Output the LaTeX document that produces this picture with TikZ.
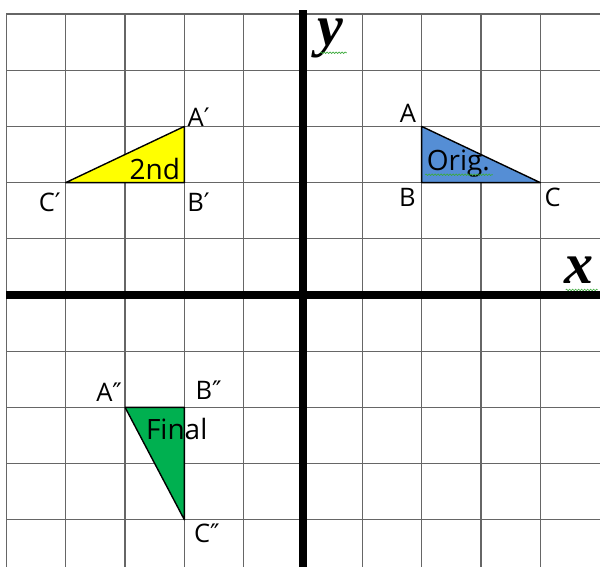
\documentclass[tikz,border=0pt]{standalone}
\usepackage{fontspec}
\setmainfont{Open Sans}
\newfontfamily\axisfont{Liberation Serif}
\newfontfamily\primefont{DejaVu Sans}
\usetikzlibrary{decorations.pathmorphing}

\definecolor{origblue}{RGB}{85,142,213}
\definecolor{secyellow}{RGB}{255,255,0}
\definecolor{finalgreen}{RGB}{0,176,80}
\definecolor{squiggle}{RGB}{60,170,60}

\newcommand{\pr}{{\primefont\char"2032}}
\newcommand{\dpr}{{\primefont\char"2033}}

\begin{document}
\begin{tikzpicture}[x=59.3pt, y=56.2pt,
    every node/.style={font=\fontsize{25.5}{27}\selectfont, inner sep=0pt},
    gridline/.style={black!60, line width=1.3pt},
    axisline/.style={black, line width=8pt},
    tri/.style={draw=black, line width=1.4pt, line join=round},
    tritext/.style={font=\fontsize{28}{30}\selectfont},
    axislabel/.style={font=\axisfont\bfseries\itshape\fontsize{58}{60}\selectfont},
    spell/.style={squiggle, line width=0.6pt, decorate,
      decoration={snake, amplitude=0.8pt, segment length=3pt}}]
    \useasboundingbox (-5.1096,-4.8399) rectangle (5.0084,5.2491);
    % Grid
    \foreach \i in {-5,...,4} \draw[gridline] (\i,-5) -- (\i,5);
    \foreach \j in {-4,...,5} \draw[gridline] (-5,\j) -- (5.2,\j);
    \draw[spell] (4.43,0.09) -- (4.97,0.09);
    % Axes
    \draw[axisline] (-5,0) -- (5.2,0);
    \draw[axisline] (0,-5) -- (0,5.07);
    \node[axislabel] (xlab) at (4.65,0.44) {x};
    \node[axislabel] (ylab) at (0.47,4.57) {y};
    \draw[spell] (0.29,4.31) -- (0.74,4.31);
    % Original
    \coordinate (A) at (2,3);
    \coordinate (B) at (2,2);
    \coordinate (C) at (4,2);
    \filldraw[tri, fill=origblue] (A) -- (B) -- (C) -- cycle;
    \node (labA) at (1.77,3.23) {A};
    \node (labB) at (1.76,1.73) {B};
    \node (labC) at (4.21,1.73) {C};
    \node[tritext] (orig) at (2.62,2.33) {Orig.};
    \draw[spell] (2.06,2.14) -- (3.20,2.14);
    % 2nd
    \coordinate (A1) at (-2,3);
    \coordinate (B1) at (-2,2);
    \coordinate (C1) at (-4,2);
    \filldraw[tri, fill=secyellow] (A1) -- (B1) -- (C1) -- cycle;
    \node (labA1) at (-1.76,3.16) {A\pr};
    \node (labB1) at (-1.76,1.65) {B\pr};
    \node (labC1) at (-4.27,1.65) {C\pr};
    \node[tritext] (second) at (-2.50,2.24) {2nd};
    % Final
    \coordinate (A2) at (-3,-2);
    \coordinate (B2) at (-2,-2);
    \coordinate (C2) at (-2,-4);
    \filldraw[tri, fill=finalgreen] (A2) -- (B2) -- (C2) -- cycle;
    \node (labA2) at (-3.27,-1.73) {A\dpr};
    \node (labB2) at (-1.59,-1.69) {B\dpr};
    \node (labC2) at (-1.62,-4.24) {C\dpr};
    \node[tritext] (final) at (-2.13,-2.38) {Final};
\end{tikzpicture}
\end{document}
